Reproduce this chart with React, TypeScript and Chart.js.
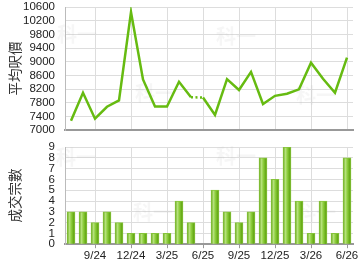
import React, { useEffect, useRef } from "react";
import Chart from "chart.js/auto";

const months = [
  "7/24", "8/24", "9/24", "10/24", "11/24", "12/24",
  "1/25", "2/25", "3/25", "4/25", "5/25", "6/25",
  "7/25", "8/25", "9/25", "10/25", "11/25", "12/25",
  "1/26", "2/26", "3/26", "4/26", "5/26", "6/26",
];
const avgPrice = [
  7270, 8090, 7330, 7680, 7865, 10450,
  8480, 7690, 7690, 8410, 7960, 7950,
  7440, 8490, 8170, 8700, 7760, 8000,
  8060, 8190, 8970, 8500, 8090, 9120,
];
const dealCount = [
  3, 3, 2, 3, 2, 1,
  1, 1, 1, 4, 2, 0,
  5, 3, 2, 3, 8, 6,
  9, 4, 1, 4, 1, 8,
];
const priceTitle = "平均呎價";
const countTitle = "成交宗數";
const watermark = "科一";

const TICK_FONT = { family: "Arial, 'Liberation Sans', sans-serif", size: 11.5 };
const TITLE_FONT = { family: "'Noto Sans CJK TC', 'Noto Sans CJK SC', sans-serif", size: 13.5 };
const GRID = "#dddddd";
const LINE_GREEN = "rgb(102,187,17)";

const tickOn = (i: number) => i % 3 === 2;

function makeWatermark(points: [number, number][]) {
  return {
    id: "wm",
    beforeDatasetsDraw(chart: any) {
      const c = chart.ctx;
      c.save();
      c.font = "bold 20px 'Noto Sans CJK TC', sans-serif";
      c.fillStyle = "rgba(190,190,190,0.14)";
      c.textAlign = "center";
      c.textBaseline = "middle";
      points.forEach(([x, y]) => c.fillText(watermark, x, y));
      c.restore();
    },
  };
}

export default function App() {
  const topRef = useRef<HTMLCanvasElement>(null);
  const botRef = useRef<HTMLCanvasElement>(null);

  useEffect(() => {
    const xCommon = (showLabels: boolean) => ({
      type: "category" as const,
      offset: true,
      afterFit: (axis: any) => {
        axis.paddingLeft = 0;
        axis.paddingRight = 0;
      },
      grid: {
        offset: false,
        color: (ctx: any) => (tickOn(ctx.index) ? GRID : "rgba(0,0,0,0)"),
        tickColor: (ctx: any) => (tickOn(ctx.index) ? "#999" : "rgba(0,0,0,0)"),
        drawTicks: showLabels,
        tickLength: 4,
      },
      border: { color: "#999", width: 2 },
      ticks: {
        display: showLabels,
        autoSkip: false,
        maxRotation: 0,
        padding: 1,
        color: "#222",
        font: TICK_FONT,
        callback: (_v: any, i: number) => (tickOn(i) ? months[i] : ""),
      },
    });

    const yFit = (axis: any) => {
      axis.width = 65;
      axis.paddingTop = 0;
      axis.paddingBottom = 0;
    };
    const yTicks = (step: number) => ({
      stepSize: step,
      autoSkip: false,
      padding: 10,
      color: "#222",
      font: TICK_FONT,
      callback: (v: any) => String(v),
    });
    const yTitle = (text: string) => ({
      display: true,
      text,
      color: "#333",
      font: TITLE_FONT,
      padding: { top: 7, bottom: 0 },
    });

    const top = new Chart(topRef.current!, {
      type: "line",
      data: {
        labels: months,
        datasets: [
          {
            data: avgPrice,
            borderColor: LINE_GREEN,
            borderWidth: 2.5,
            pointRadius: 0,
            tension: 0,
            segment: {
              borderDash: (ctx: any) => (ctx.p1DataIndex === 11 ? [2, 2.5] : undefined),
            },
          },
        ],
      },
      options: {
        animation: false,
        responsive: true,
        maintainAspectRatio: false,
        layout: { padding: { top: 7, right: 7, bottom: 8, left: 0 } },
        plugins: { legend: { display: false }, tooltip: { enabled: false } },
        scales: {
          x: xCommon(false),
          y: {
            min: 7000,
            max: 10600,
            afterFit: yFit,
            grid: { color: GRID, drawTicks: false },
            border: { color: "#bbb", width: 1 },
            ticks: yTicks(400),
            title: yTitle(priceTitle),
          },
        },
      },
      plugins: [makeWatermark([[77, 34], [155, 93], [236, 36], [316, 95]])],
    });

    const bot = new Chart(botRef.current!, {
      type: "bar",
      data: {
        labels: months,
        datasets: [
          {
            data: dealCount,
            barThickness: 8,
            borderWidth: 1,
            borderColor: "#86c43a",
            borderSkipped: "bottom",
            backgroundColor: (ctx: any) => {
              const chart = ctx.chart;
              if (!chart.chartArea || ctx.type !== "data") return "#8cc63f";
              const x = chart.scales.x.getPixelForValue(ctx.dataIndex);
              const g = chart.ctx.createLinearGradient(x - 4, 0, x + 4, 0);
              g.addColorStop(0, "#5f9f12");
              g.addColorStop(0.3, "#b6e27c");
              g.addColorStop(0.55, "#8ccd3c");
              g.addColorStop(0.8, "#6aae1a");
              g.addColorStop(1, "#5a9a10");
              return g;
            },
          },
        ],
      },
      options: {
        animation: false,
        responsive: true,
        maintainAspectRatio: false,
        layout: { padding: { top: 9, right: 7, bottom: 6, left: 0 } },
        plugins: { legend: { display: false }, tooltip: { enabled: false } },
        scales: {
          x: xCommon(true),
          y: {
            min: 0,
            max: 9,
            afterFit: yFit,
            grid: { color: GRID, drawTicks: false },
            border: { color: "#bbb", width: 1 },
            ticks: yTicks(1),
            title: yTitle(countTitle),
          },
        },
      },
      plugins: [makeWatermark([[76, 19], [153, 74], [236, 18], [316, 74]])],
    });

    return () => {
      top.destroy();
      bot.destroy();
    };
  }, []);

  return (
    <div
      style={{
        position: "fixed",
        left: 0,
        top: 0,
        width: 360,
        height: 270,
        background: "#fff",
      }}
    >
      <div style={{ position: "relative", width: 360, height: 138 }}>
        <canvas ref={topRef} />
      </div>
      <div style={{ position: "relative", width: 360, height: 132 }}>
        <canvas ref={botRef} />
      </div>
    </div>
  );
}
